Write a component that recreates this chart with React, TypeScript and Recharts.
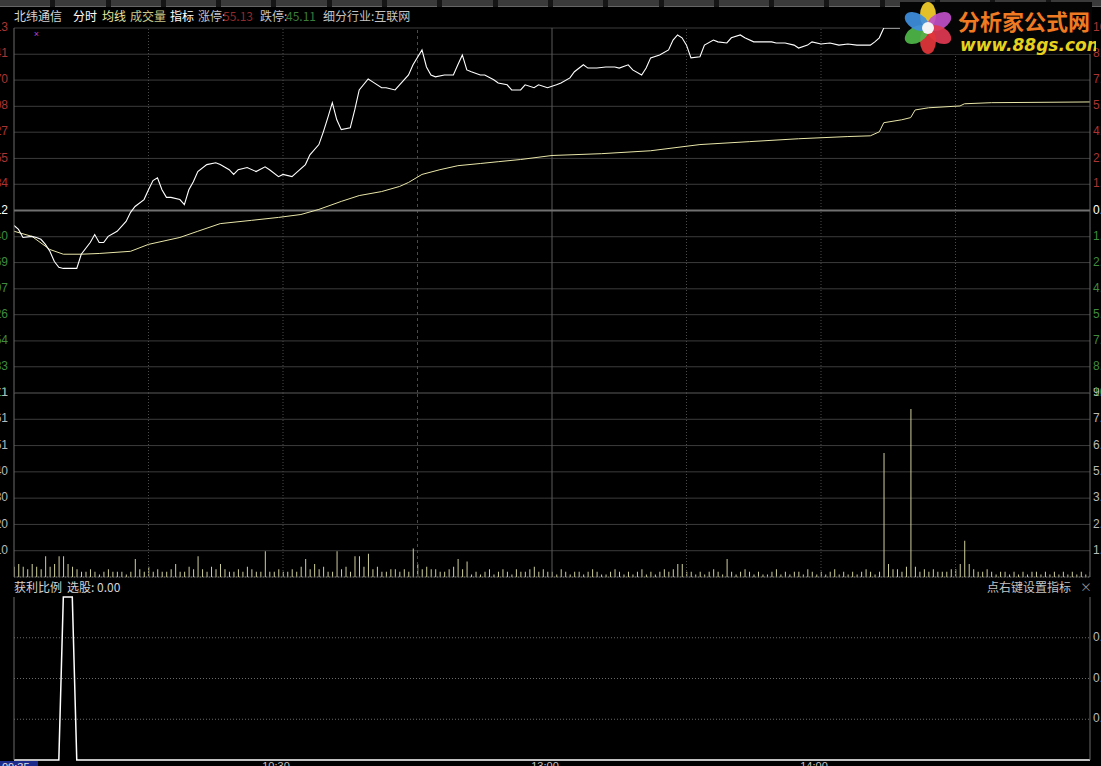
import { ComposedChart, Line, Bar, Scatter, XAxis, YAxis, CartesianGrid, ReferenceLine } from "recharts"

const prevClose = 50.12
const limitUp = 55.13
const limitDown = 45.11

// minute index (0 = 09:30, 240 = 15:00) and price of the tick line
const priceTimes = [0, 1, 2, 4, 5, 6, 7, 8, 9, 10, 11, 14, 15, 17, 18, 19, 20, 21, 23, 25, 26, 27, 29, 30, 31, 32, 33, 34, 35, 37, 38, 39, 40, 41, 43, 45, 46, 48, 49, 50, 52, 54, 56, 57, 59, 60, 62, 63, 65, 66, 68, 69, 70, 71, 72, 73, 75, 76, 77, 79, 80, 82, 83, 85, 86, 88, 89, 91, 92, 93, 94, 96, 98, 99, 100, 101, 102, 104, 105, 107, 108, 110, 111, 113, 114, 116, 117, 119, 121, 122, 124, 125, 127, 128, 130, 132, 134, 135, 137, 138, 140, 141, 142, 144, 146, 147, 148, 149, 150, 151, 153, 154, 156, 157, 159, 160, 162, 163, 165, 166, 169, 170, 172, 174, 175, 177, 178, 180, 182, 184, 186, 188, 189, 191, 192, 193, 194, 240]
const prices = [49.71, 49.6, 49.38, 49.41, 49.38, 49.33, 49.19, 49.0, 48.72, 48.56, 48.53, 48.53, 48.92, 49.24, 49.46, 49.24, 49.24, 49.41, 49.55, 49.82, 50.07, 50.23, 50.42, 50.69, 50.94, 51.02, 50.69, 50.48, 50.48, 50.42, 50.28, 50.69, 50.91, 51.19, 51.38, 51.43, 51.38, 51.24, 51.11, 51.24, 51.3, 51.19, 51.32, 51.24, 51.05, 51.11, 51.05, 51.16, 51.38, 51.65, 51.93, 52.28, 52.67, 53.08, 52.61, 52.34, 52.39, 52.88, 53.43, 53.73, 53.65, 53.49, 53.49, 53.43, 53.57, 53.84, 54.12, 54.53, 54.06, 53.84, 53.79, 53.84, 53.84, 54.12, 54.39, 53.98, 53.93, 53.84, 53.84, 53.71, 53.62, 53.57, 53.43, 53.43, 53.57, 53.49, 53.57, 53.49, 53.57, 53.62, 53.76, 53.93, 54.12, 54.03, 54.03, 54.06, 54.06, 54.03, 54.12, 53.98, 53.84, 54.03, 54.31, 54.39, 54.53, 54.8, 54.94, 54.86, 54.66, 54.31, 54.34, 54.66, 54.8, 54.75, 54.72, 54.86, 54.94, 54.86, 54.75, 54.75, 54.75, 54.72, 54.72, 54.66, 54.58, 54.66, 54.75, 54.69, 54.72, 54.66, 54.69, 54.66, 54.66, 54.66, 54.75, 54.86, 55.13, 55.13]

// average price line
const avgTimes = [0, 4, 8, 11, 15, 19, 26, 30, 37, 41, 46, 53, 59, 64, 68, 73, 77, 82, 86, 88, 91, 95, 99, 104, 108, 113, 120, 131, 142, 153, 164, 175, 186, 191, 193, 194, 198, 200, 201, 204, 211, 212, 218, 240]
const avgPrices = [49.55, 49.41, 49.05, 48.92, 48.92, 48.94, 49.0, 49.19, 49.38, 49.55, 49.76, 49.85, 49.93, 50.01, 50.15, 50.37, 50.53, 50.64, 50.78, 50.89, 51.11, 51.24, 51.35, 51.41, 51.46, 51.52, 51.63, 51.68, 51.76, 51.93, 52.01, 52.09, 52.15, 52.17, 52.28, 52.53, 52.61, 52.67, 52.88, 52.94, 52.99, 53.05, 53.08, 53.1]

// volume per minute
const volumes = [
  4, 5, 4, 3, 5, 4, 3, 8, 4, 5, 8, 8, 5, 4, 3, 2, 2, 3, 2, 1,
  2, 3, 2, 2, 2, 1, 2, 7, 3, 2, 4, 2, 3, 2, 2, 3, 5, 2, 2, 4,
  3, 8, 3, 2, 4, 3, 5, 3, 2, 2, 3, 2, 4, 3, 2, 2, 10, 2, 2, 3,
  2, 2, 3, 2, 4, 7, 3, 5, 3, 4, 2, 2, 10, 3, 4, 2, 8, 8, 4, 9,
  3, 4, 2, 2, 3, 3, 2, 3, 2, 11, 5, 3, 4, 3, 3, 2, 2, 3, 4, 7,
  3, 6, 1, 2, 1, 2, 3, 1, 2, 3, 2, 1, 3, 2, 2, 3, 4, 2, 3, 2,
  2, 1, 3, 2, 1, 2, 2, 1, 2, 3, 2, 1, 1, 2, 3, 2, 1, 2, 1, 2,
  3, 1, 2, 1, 2, 3, 2, 3, 5, 5, 2, 2, 1, 2, 1, 2, 3, 2, 1, 7,
  2, 1, 2, 3, 2, 1, 2, 1, 1, 2, 3, 1, 2, 1, 2, 2, 1, 3, 2, 1,
  2, 1, 2, 3, 1, 2, 1, 2, 1, 2, 3, 2, 1, 2, 48, 5, 3, 3, 2, 4,
  65, 4, 2, 3, 2, 3, 2, 2, 2, 3, 3, 5, 14, 5, 3, 2, 2, 3, 2, 1,
  2, 2, 1, 2, 1, 2, 1, 2, 2, 1, 2, 1, 2, 1, 2, 1, 2, 1, 2, 1,
  2,
]
const volMax = 71.2
const volTickLabels = ["10", "20", "30", "40", "51", "61", "71"]
const volRightLabels = ["1.3", "2.6", "3.9", "5.2", "6.5", "7.8", "9.1"]

// signal mark (purple cross)
const signalTimes = [5]
const signalPrices = [54.94]

// 获利比例 indicator
const profitTimes = [0, 10, 11, 13, 14, 240]
const profitValues = [0, 0, 1, 1, 0, 0]
const profitTicks = [0.25, 0.5, 0.75]

const timeTicks = [60, 120, 180]
const timeLabels = ["10:30", "13:00", "14:00"]
const gridTimes = [30, 60, 90, 150, 180, 210]

const priceData = priceTimes.map((t, i) => ({ t, p: prices[i] }))
const avgData = avgTimes.map((t, i) => ({ t, p: avgPrices[i] }))
const volData = volumes.map((v, i) => ({ t: i, v }))
const signalData = signalTimes.map((t, i) => ({ t, p: signalPrices[i] }))
const profitData = profitTimes.map((t, i) => ({ t, v: profitValues[i] }))

const step = (limitUp - prevClose) / 7
const priceTicks = Array.from({ length: 15 }, (_, i) => +(prevClose + (i - 7) * step).toFixed(2))
const volTicks = volTickLabels.map((_, i) => (volMax / 7) * (i + 1))

const FONT = "'Liberation Sans', Arial, sans-serif"
const CJK = "'Noto Sans CJK SC', sans-serif"
const RED = "#a83434"
const GREEN = "#3f8a3f"
const GRID = "#3c3c3c"
const AXIS = "#6a6a6a"
const RIGHT_X = 1093

const colorFor = (v: number) => (v > prevClose + 0.005 ? RED : v < prevClose - 0.005 ? GREEN : "#ffffff")

// left price label + right percent label on the same row
const PriceTick = (props: any) => {
  const v = props.payload.value
  const pct = ((v - prevClose) / prevClose) * 100
  return (
    <g>
      <text x={8} y={props.y} textAnchor="end" dominantBaseline="middle" fontSize={12} fontFamily={FONT} fill={colorFor(v)}>
        {v.toFixed(2)}
      </text>
      <text x={RIGHT_X} y={props.y} textAnchor="start" dominantBaseline="middle" fontSize={12} fontFamily={FONT} fill={colorFor(v)}>
        {Math.abs(pct).toFixed(2)}%
      </text>
    </g>
  )
}

const VolTick = (props: any) => {
  const i = volTicks.findIndex((t) => Math.abs(t - props.payload.value) < 0.01)
  return (
    <g>
      <text x={8} y={props.y} textAnchor="end" dominantBaseline="middle" fontSize={12} fontFamily={FONT} fill="#b8b8b8">
        {volTickLabels[i]}
      </text>
      <text x={RIGHT_X} y={props.y} textAnchor="start" dominantBaseline="middle" fontSize={12} fontFamily={FONT} fill="#b8b8b8">
        {volRightLabels[i]}
      </text>
    </g>
  )
}

const ProfitTick = (props: any) => (
  <text x={RIGHT_X} y={props.y} textAnchor="start" dominantBaseline="middle" fontSize={12} fontFamily={FONT} fill="#b8b8b8">
    {props.payload.value.toFixed(2)}
  </text>
)

const TimeTick = (props: any) => {
  const i = timeTicks.indexOf(props.payload.value)
  return (
    <text x={props.x - 7} y={178} textAnchor="middle" fontSize={11} fontFamily={FONT} fill="#c0c0c0">
      {timeLabels[i]}
    </text>
  )
}

const Cross = (props: any) => (
  <text x={props.cx} y={props.cy} textAnchor="middle" dominantBaseline="middle" fontSize={9} fontFamily={FONT} fill="#c040d0">
    ×
  </text>
)

const vLines = (yId: string) =>
  gridTimes.map((t) => (
    <ReferenceLine key={t} x={t} yAxisId={yId} stroke="#4a4a4a" strokeDasharray={t === 90 ? "3 3" : "1 2"} />
  ))

const titleSpan = (text: string, left: number, color: string, top = 9) => (
  <span
    style={{ position: "absolute", left, top, fontSize: 12, lineHeight: "14px", color, fontFamily: CJK, whiteSpace: "nowrap" }}
  >
    {text}
  </span>
)

function Logo() {
  const petals = [
    { a: -90, c: "#f6d02a" },
    { a: -30, c: "#c04fc8" },
    { a: 30, c: "#e03a52" },
    { a: 90, c: "#e2363a" },
    { a: 150, c: "#4fb84a" },
    { a: 210, c: "#3f8fe0" },
  ]
  return (
    <svg width={196} height={58} style={{ position: "absolute", left: 900, top: 0 }}>
      <rect x={0} y={2} width={192} height={52} fill="#050505" />
      {petals.map((p) => (
        <ellipse key={p.a} cx={28} cy={28} rx={8} ry={13} fill={p.c} opacity={0.92} transform={`rotate(${p.a + 90} 28 28) translate(0 -13)`} />
      ))}
      <circle cx={28} cy={28} r={6} fill="#f4f4f4" />
      <text x={58} y={30} fontSize={22} fontWeight="bold" fontFamily={CJK} fill="#ef7a22">
        分析家公式网
      </text>
      <text x={60} y={51} fontSize={17} fontWeight="bold" fontStyle="italic" fontFamily="'DejaVu Sans', sans-serif" fill="#e6d21e">
        www.88gs.com
      </text>
    </svg>
  )
}

export default function App() {
  return (
    <div style={{ position: "fixed", left: 0, top: 0, width: 1101, height: 766, overflow: "hidden", background: "#000" }}>
      {/* toolbar strip */}
      <div style={{ position: "absolute", left: 0, top: 0, width: 1101, height: 7, background: "#151515", display: "flex", gap: 5 }}>
        {Array.from({ length: 20 }, (_, i) => (
          <div key={i} style={{ width: 52, height: 6, background: "#3a3a3a", borderBottom: "1px solid #666" }} />
        ))}
      </div>

      {titleSpan("北纬通信", 14, "#d4d4d4")}
      {titleSpan("分时", 73, "#ffffff")}
      {titleSpan("均线", 102, "#e8e8a0")}
      {titleSpan("成交量", 130, "#c8c888")}
      {titleSpan("指标", 170, "#ffffff")}
      {titleSpan("涨停:", 198, "#c4c4c4")}
      {titleSpan(limitUp.toFixed(2), 223, "#8e2a2a")}
      {titleSpan("跌停:", 260, "#c4c4c4")}
      {titleSpan(limitDown.toFixed(2), 286, "#3c7a3c")}
      {titleSpan("细分行业:互联网", 323, "#c4c4c4")}

      {/* price panel */}
      <div style={{ position: "absolute", left: 0, top: 18 }}>
        <ComposedChart width={1101} height={380} data={priceData} margin={{ top: 10, right: 0, bottom: 5, left: 0 }}>
          <XAxis type="number" dataKey="t" domain={[0, 240]} hide allowDataOverflow />
          <YAxis yAxisId="price" domain={[limitDown, limitUp]} ticks={priceTicks} interval={0} width={14} tick={PriceTick} tickLine={false} axisLine={{ stroke: AXIS }} allowDataOverflow />
          <YAxis yAxisId="pct" orientation="right" domain={[-10, 10]} width={11} tick={false} tickLine={false} axisLine={{ stroke: AXIS }} />
          <CartesianGrid yAxisId="price" vertical={false} stroke={GRID} />
          {vLines("price")}
          <ReferenceLine x={120} yAxisId="price" stroke="#5a5a5a" />
          <ReferenceLine y={prevClose} yAxisId="price" stroke="#707070" strokeWidth={2} />
          <Line yAxisId="price" data={avgData} dataKey="p" type="linear" stroke="#e8e6a8" strokeWidth={1} dot={false} isAnimationActive={false} />
          <Line yAxisId="price" data={priceData} dataKey="p" type="linear" stroke="#ffffff" strokeWidth={1.1} dot={false} isAnimationActive={false} />
          <Scatter yAxisId="price" data={signalData} dataKey="p" shape={Cross} isAnimationActive={false} />
        </ComposedChart>
      </div>

      {/* volume panel */}
      <div style={{ position: "absolute", left: 0, top: 388 }}>
        <ComposedChart width={1101} height={194} data={volData} margin={{ top: 5, right: 0, bottom: 5, left: 0 }}>
          <XAxis type="number" dataKey="t" domain={[0, 240]} hide allowDataOverflow />
          <YAxis yAxisId="vol" domain={[0, volMax]} ticks={volTicks} interval={0} width={14} tick={VolTick} tickLine={false} axisLine={{ stroke: AXIS }} />
          <YAxis yAxisId="volR" orientation="right" domain={[0, volMax]} width={11} tick={false} tickLine={false} axisLine={{ stroke: AXIS }} />
          <CartesianGrid yAxisId="vol" vertical={false} stroke={GRID} />
          {vLines("vol")}
          <ReferenceLine x={120} yAxisId="vol" stroke="#5a5a5a" />
          <ReferenceLine y={0} yAxisId="vol" stroke="#6a6a6a" strokeDasharray="1 2" />
          <Bar yAxisId="vol" dataKey="v" fill="#cfcf9c" barSize={1} isAnimationActive={false} />
        </ComposedChart>
      </div>

      {titleSpan("获利比例", 14, "#d4d4d4", 580)}
      {titleSpan("选股: 0.00", 67, "#d4d4d4", 580)}
      {titleSpan("点右键设置指标", 987, "#c4c4c4", 580)}
      {titleSpan("×", 1080, "#909090", 580)}

      {/* indicator panel */}
      <div style={{ position: "absolute", left: 0, top: 592 }}>
        <ComposedChart width={1101} height={174} data={profitData} margin={{ top: 5, right: 0, bottom: 0, left: 0 }}>
          <XAxis type="number" dataKey="t" domain={[0, 240]} ticks={timeTicks} height={6} tick={TimeTick} tickLine={false} axisLine={false} />
          <YAxis yAxisId="ind" domain={[0, 1]} ticks={profitTicks} interval={0} width={14} tick={ProfitTick} tickLine={false} axisLine={{ stroke: AXIS }} />
          <YAxis yAxisId="indR" orientation="right" domain={[0, 1]} width={11} tick={false} tickLine={false} axisLine={{ stroke: AXIS }} />
          {profitTicks.map((v) => (
            <ReferenceLine key={v} y={v} yAxisId="ind" stroke="#6a6a6a" strokeDasharray="1 2" />
          ))}
          <Line yAxisId="ind" dataKey="v" type="linear" stroke="#ffffff" strokeWidth={1.5} dot={false} isAnimationActive={false} />
        </ComposedChart>
      </div>

      {/* cursor time box */}
      <div style={{ position: "absolute", left: 0, top: 761, width: 36, height: 12, background: "#1c2a8c", color: "#e0e0e0", fontSize: 11, fontFamily: FONT, lineHeight: "12px", paddingLeft: 2 }}>
        09:35
      </div>

      <Logo />
    </div>
  )
}
